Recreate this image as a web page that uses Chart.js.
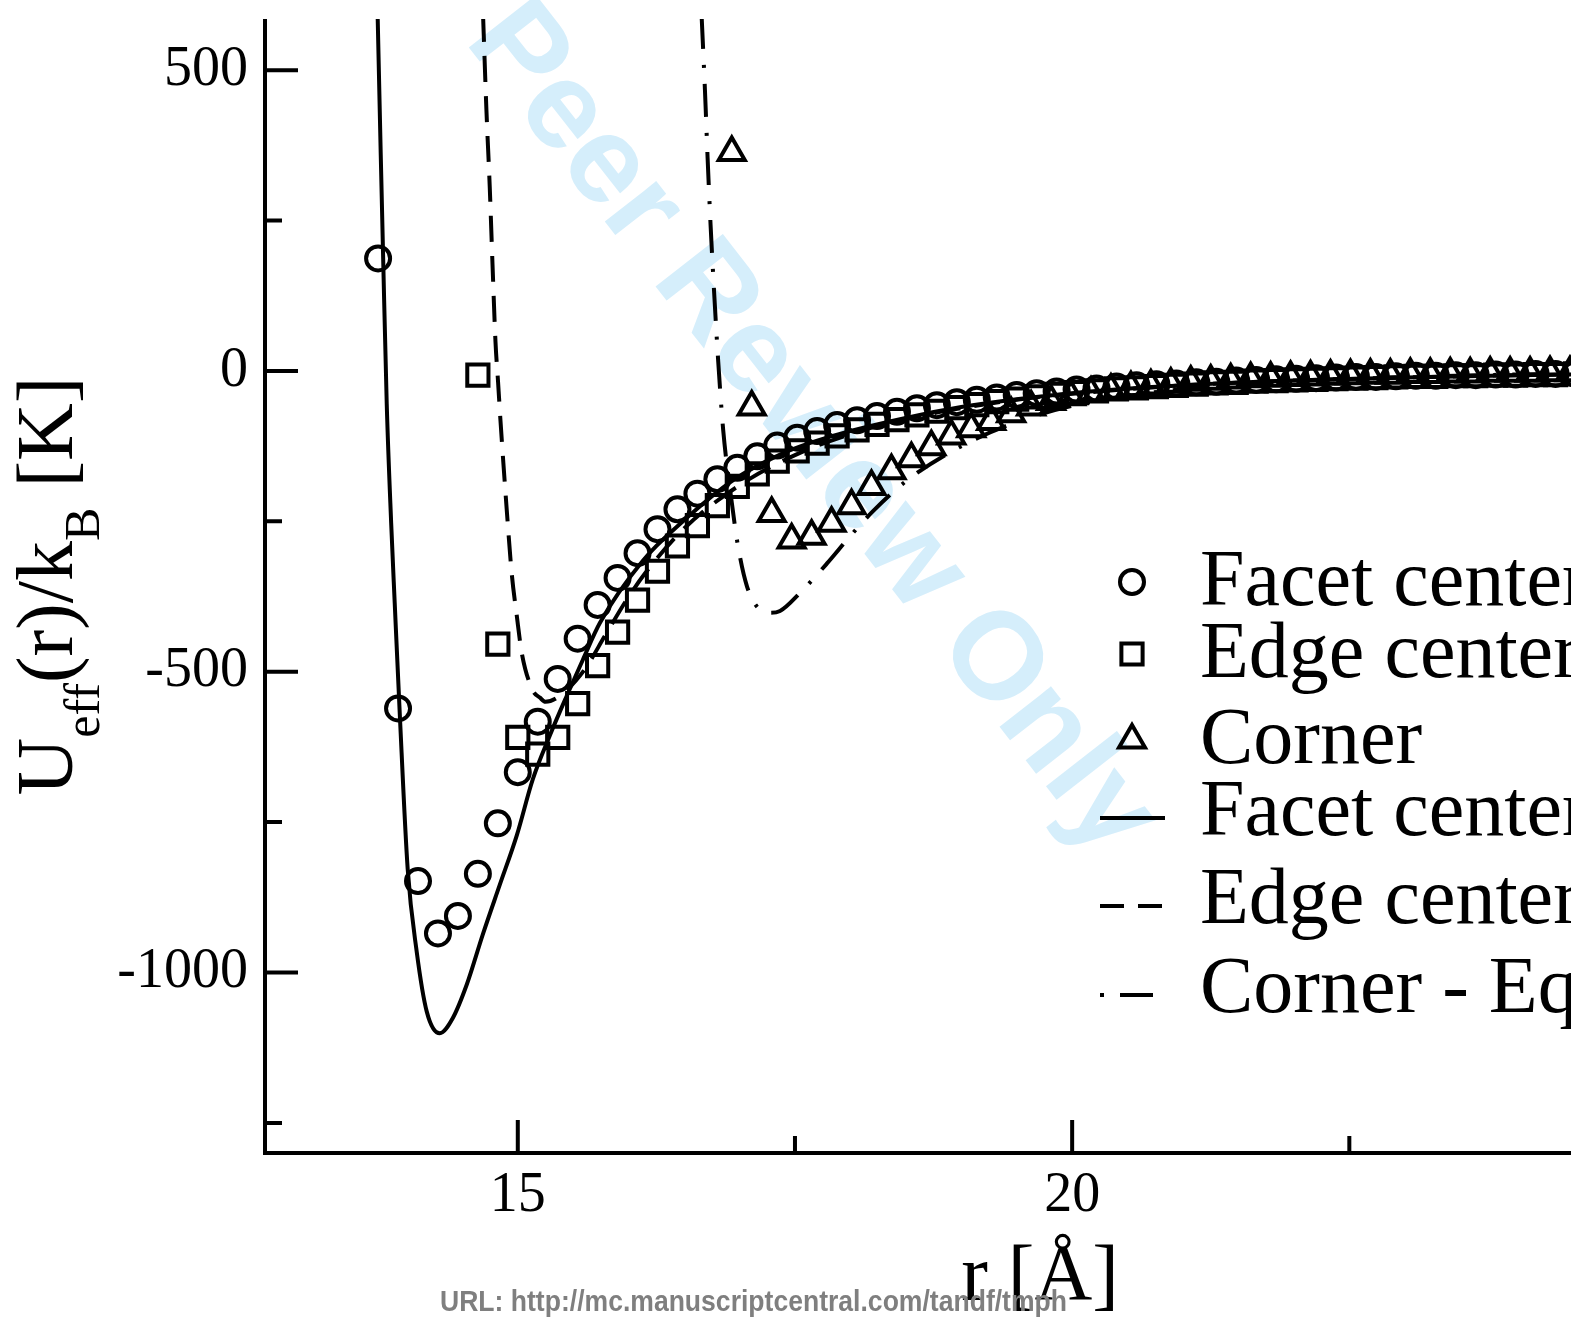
<!DOCTYPE html>
<html>
<head>
<meta charset="utf-8">
<title>Effective potential</title>
<script src="https://cdn.jsdelivr.net/npm/chart.js@4.4.1/dist/chart.umd.min.js"></script>
<style>
  html, body { margin: 0; padding: 0; background: #fff; overflow: hidden; }
  canvas { display: block; }
</style>
</head>
<body>
<canvas id="potential" width="1900" height="1319"></canvas>
<script>
//----------------------------------------------
// data
//----------------------------------------------

// simulation points (symbols)
const facetSimR = [13.74, 13.92, 14.10, 14.28, 14.46, 14.64, 14.82, 15.00, 15.18, 15.36, 15.54, 15.72, 15.90, 16.08, 16.26, 16.44, 16.62, 16.80, 16.98, 17.16, 17.34, 17.52, 17.70, 17.88, 18.06, 18.24, 18.42, 18.60, 18.78, 18.96, 19.14, 19.32, 19.50, 19.68, 19.86, 20.04, 20.22, 20.40, 20.58, 20.76, 20.94, 21.12, 21.30, 21.48, 21.66, 21.84, 22.02, 22.20, 22.38, 22.56, 22.74, 22.92, 23.10, 23.28, 23.46, 23.64, 23.82, 24.00, 24.18, 24.36, 24.54, 24.72, 24.90];
const facetSimU = [187, -561, -848, -935, -906, -836, -752, -667, -583, -512, -445, -389, -344, -303, -263, -230, -204, -180, -161, -142, -124, -111, -100, -90, -82, -75, -68, -62, -57, -52, -48, -44, -40, -37, -34, -31, -29, -26, -24, -22, -21, -19, -18, -16, -15, -14, -13, -12, -11, -10, -10, -9, -8, -8, -7, -7, -6, -6, -5, -5, -5, -4, -4];

const edgeSimR = [14.64, 14.82, 15.00, 15.18, 15.36, 15.54, 15.72, 15.90, 16.08, 16.26, 16.44, 16.62, 16.80, 16.98, 17.16, 17.34, 17.52, 17.70, 17.88, 18.06, 18.24, 18.42, 18.60, 18.78, 18.96, 19.14, 19.32, 19.50, 19.68, 19.86, 20.04, 20.22, 20.40, 20.58, 20.76, 20.94, 21.12, 21.30, 21.48, 21.66, 21.84, 22.02, 22.20, 22.38, 22.56, 22.74, 22.92, 23.10, 23.28, 23.46, 23.64, 23.82, 24.00, 24.18, 24.36, 24.54, 24.72, 24.90];
const edgeSimU = [-7, -454, -609, -637, -609, -553, -490, -434, -381, -333, -291, -257, -224, -192, -171, -150, -133, -120, -108, -98, -89, -81, -73, -67, -61, -56, -51, -47, -43, -39, -36, -33, -30, -28, -26, -24, -22, -20, -19, -17, -16, -15, -14, -13, -12, -11, -10, -9, -9, -8, -8, -7, -7, -6, -6, -5, -5, -5];

const cornerSimR = [16.93, 17.11, 17.29, 17.47, 17.65, 17.83, 18.01, 18.19, 18.37, 18.55, 18.73, 18.91, 19.09, 19.27, 19.45, 19.63, 19.81, 19.99, 20.17, 20.35, 20.53, 20.71, 20.89, 21.07, 21.25, 21.43, 21.61, 21.79, 21.97, 22.15, 22.33, 22.51, 22.69, 22.87, 23.05, 23.23, 23.41, 23.59, 23.77, 23.95, 24.13, 24.31, 24.49, 24.67, 24.85];
const cornerSimU = [363, -60, -237, -281, -275, -253, -224, -192, -166, -146, -126, -108, -96, -84, -71, -60, -51, -43, -37, -32, -28, -25, -22, -19, -17, -15, -13, -12, -11, -10, -9, -8, -7, -7, -6, -6, -5, -5, -4, -4, -4, -3, -3, -3, -3];

// model curves (lines)
const facetEqR = [13.736, 13.764, 13.786, 13.818, 13.858, 13.89, 13.935, 14.007, 14.088, 14.179, 14.296, 14.413, 14.54, 14.684, 14.838, 14.991, 15.135, 15.289, 15.442, 15.587, 15.74, 16.13, 16.49, 16.94, 17.39, 17.84, 18.5, 19.0, 19.5, 20.0, 21.0, 22.0, 23.0, 24.0, 25.0, 26.0, 26.7];
const facetEqU = [590, 359, 185, -55, -253, -386, -568, -828, -965, -1065, -1101, -1076, -1020, -937, -854, -772, -679, -606, -540, -480, -419, -315, -250, -182, -137, -108, -78, -60, -47, -37, -24, -16, -11, -7, -5, -3, -3];

const edgeEqR = [14.687, 14.717, 14.747, 14.772, 14.799, 14.822, 14.844, 14.90, 14.946, 14.991, 15.036, 15.135, 15.199, 15.25, 15.38, 15.6, 15.79, 15.98, 16.15, 16.5, 17.0, 17.5, 18.0, 18.5, 19.0, 19.5, 20.0, 21.0, 22.0, 23.0, 24.0, 25.0, 26.0, 26.7];
const edgeEqU = [590, 434, 306, 177, 48, -18, -83, -230, -338, -407, -469, -531, -543, -550, -540, -497, -439, -381, -336, -262, -190, -140, -105, -80, -62, -48, -38, -24, -16, -11, -7, -5, -3, -3];

const cornerEqR = [16.658, 16.688, 16.712, 16.739, 16.772, 16.808, 16.853, 16.931, 16.986, 17.067, 17.184, 17.27, 17.365, 17.545, 17.789, 17.996, 18.204, 18.51, 19.0, 19.5, 20.0, 21.0, 22.0, 23.0, 24.0, 25.0, 26.0, 26.7];
const cornerEqU = [590, 467, 354, 242, 127, 15, -99, -220, -291, -358, -397, -402, -399, -369, -320, -275, -233, -182, -125, -85, -58, -30, -17, -10, -6, -4, -3, -2];

// axes
const xMajorTicks = [15, 20, 25];
const xMinorTicks = [17.5, 22.5];
const yMajorTicks = [-1000, -500, 0, 500];
const yMinorTicks = [-1250, -750, -250, 250];

const seriesLabels = ['Facet center', 'Edge center', 'Corner',
                      'Facet center - Eq. (7)', 'Edge center - Eq. (7)', 'Corner - Eq. (7)'];

function toPoints(xs, ys) {
  return xs.map((x, i) => ({x: x, y: ys[i]}));
}

const SERIF = '"Liberation Serif", "Times New Roman", serif';

function symbolSet(label, xs, ys, style, radius) {
  return {
    label: label,
    data: toPoints(xs, ys),
    showLine: false,
    pointStyle: style,
    pointRadius: radius,
    pointHoverRadius: radius,
    pointBorderWidth: 4,
    pointBorderColor: '#000',
    pointBackgroundColor: 'rgba(0,0,0,0)'
  };
}

function lineSet(label, xs, ys, dash) {
  return {
    label: label,
    data: toPoints(xs, ys),
    showLine: true,
    borderColor: '#000',
    borderWidth: 4,
    borderDash: dash,
    pointRadius: 0,
    cubicInterpolationMode: 'monotone',
    fill: false
  };
}

//----------------------------------------------
// decorations: inward ticks, axis lines, titles, legend, watermark
//----------------------------------------------
const legendBaselines = [605, 677, 763, 835, 923, 1012];

const decor = {
  id: 'decor',
  beforeDatasetsDraw(chart) {
    const ctx = chart.ctx;
    ctx.save();
    ctx.translate(811, 430);
    ctx.rotate(52 * Math.PI / 180);
    ctx.font = 'bold 124px "Liberation Sans", Arial, sans-serif';
    ctx.fillStyle = '#d5eefb';
    ctx.textAlign = 'center';
    ctx.textBaseline = 'middle';
    ctx.fillText('Peer Review Only', 0, 0);
    ctx.restore();
  },
  afterDraw(chart) {
    const ctx = chart.ctx;
    const xs = chart.scales.x, ys = chart.scales.y, area = chart.chartArea;

    ctx.save();
    ctx.strokeStyle = '#000';
    ctx.lineWidth = 4;
    ctx.lineCap = 'butt';
    ctx.beginPath();
    ctx.moveTo(area.left, area.top);
    ctx.lineTo(area.left, area.bottom + 2);
    ctx.moveTo(area.left - 2, area.bottom);
    ctx.lineTo(chart.width, area.bottom);
    yMajorTicks.forEach(v => { const p = ys.getPixelForValue(v); ctx.moveTo(area.left, p); ctx.lineTo(area.left + 33, p); });
    yMinorTicks.forEach(v => { const p = ys.getPixelForValue(v); ctx.moveTo(area.left, p); ctx.lineTo(area.left + 17, p); });
    xMajorTicks.forEach(v => { const p = xs.getPixelForValue(v); ctx.moveTo(p, area.bottom); ctx.lineTo(p, area.bottom - 33); });
    xMinorTicks.forEach(v => { const p = xs.getPixelForValue(v); ctx.moveTo(p, area.bottom); ctx.lineTo(p, area.bottom - 17); });
    ctx.stroke();

    ctx.fillStyle = '#000';
    ctx.textBaseline = 'alphabetic';

    // y title with subscripts, written bottom to top
    const parts = [['U', 80, 0], ['eff', 50, 27], ['(r)/k', 80, 0], ['B', 50, 27], [' [K]', 80, 0]];
    let total = 0;
    parts.forEach(p => { ctx.font = p[1] + 'px ' + SERIF; total += ctx.measureText(p[0]).width; });
    ctx.save();
    ctx.translate(72, (area.top + area.bottom) / 2 + total / 2);
    ctx.rotate(-Math.PI / 2);
    let cx = 0;
    parts.forEach(p => {
      ctx.font = p[1] + 'px ' + SERIF;
      ctx.fillText(p[0], cx, p[2]);
      cx += ctx.measureText(p[0]).width;
    });
    ctx.restore();

    // x title
    ctx.font = '80px ' + SERIF;
    ctx.textAlign = 'center';
    ctx.fillText('r [\u00C5]', (area.left + area.right) / 2, 1300);

    // legend
    ctx.textAlign = 'left';
    chart.data.datasets.forEach((ds, i) => {
      const base = legendBaselines[i];
      if (ds.showLine) {
        ctx.save();
        ctx.lineWidth = 4;
        if (i === 4) ctx.setLineDash([24, 14]);
        if (i === 5) ctx.setLineDash([4, 16, 33, 16]);
        ctx.beginPath();
        ctx.moveTo(1100, base - 17);
        ctx.lineTo(1165, base - 17);
        ctx.stroke();
        ctx.restore();
      } else {
        ctx.save();
        ctx.strokeStyle = '#000';
        ctx.fillStyle = 'rgba(0,0,0,0)';
        ctx.lineWidth = 4;
        Chart.helpers.drawPoint(ctx, {pointStyle: ds.pointStyle, radius: ds.pointRadius, borderWidth: 4, rotation: 0}, 1132, base - 23);
        ctx.restore();
      }
      ctx.font = '80px ' + SERIF;
      ctx.fillText(ds.label, 1200, base);
    });

    // submission footer
    const url = 'URL: http://mc.manuscriptcentral.com/tandf/tmph';
    ctx.font = 'bold 30px "Liberation Sans", Arial, sans-serif';
    const w = ctx.measureText(url).width;
    ctx.save();
    ctx.translate(440, 1311);
    ctx.scale(627 / w, 1);
    ctx.fillStyle = '#7f7f7f';
    ctx.fillText(url, 0, 0);
    ctx.restore();

    ctx.restore();
  }
};

//----------------------------------------------
// chart
//----------------------------------------------
const potCtx = document.getElementById('potential').getContext('2d');

const potChart = new Chart(potCtx, {
  type: 'scatter',
  data: {
    datasets: [
      symbolSet(seriesLabels[0], facetSimR, facetSimU, 'circle', 12),
      symbolSet(seriesLabels[1], edgeSimR, edgeSimU, 'rect', 15),
      symbolSet(seriesLabels[2], cornerSimR, cornerSimU, 'triangle', 15),
      lineSet(seriesLabels[3], facetEqR, facetEqU, []),
      lineSet(seriesLabels[4], edgeEqR, edgeEqU, [26, 14]),
      lineSet(seriesLabels[5], cornerEqR, cornerEqU, [33, 16, 3, 16])
    ]
  },
  options: {
    responsive: false,
    devicePixelRatio: 1,
    animation: false,
    layout: { padding: { top: 14, right: 85, left: 0, bottom: 0 } },
    plugins: { legend: { display: false }, tooltip: { enabled: false } },
    scales: {
      x: {
        type: 'linear',
        min: 12.72,
        max: 26.7,
        afterFit: s => { s.height = 166; s.paddingLeft = 0; s.paddingRight = 0; },
        afterBuildTicks: s => { s.ticks = xMajorTicks.map(v => ({value: v})); },
        grid: { display: false, drawTicks: false },
        border: { display: false },
        ticks: {
          padding: 10,
          color: '#000',
          font: { family: SERIF, size: 56 },
          callback: v => String(v)
        }
      },
      y: {
        type: 'linear',
        min: -1300,
        max: 585,
        afterFit: s => { s.width = 265; s.paddingTop = 0; s.paddingBottom = 0; },
        afterBuildTicks: s => { s.ticks = yMajorTicks.map(v => ({value: v})); },
        grid: { display: false, drawTicks: false },
        border: { display: false },
        ticks: {
          padding: 17,
          color: '#000',
          font: { family: SERIF, size: 56 },
          callback: v => String(v)
        }
      }
    }
  },
  plugins: [decor]
});
</script>
</body>
</html>
